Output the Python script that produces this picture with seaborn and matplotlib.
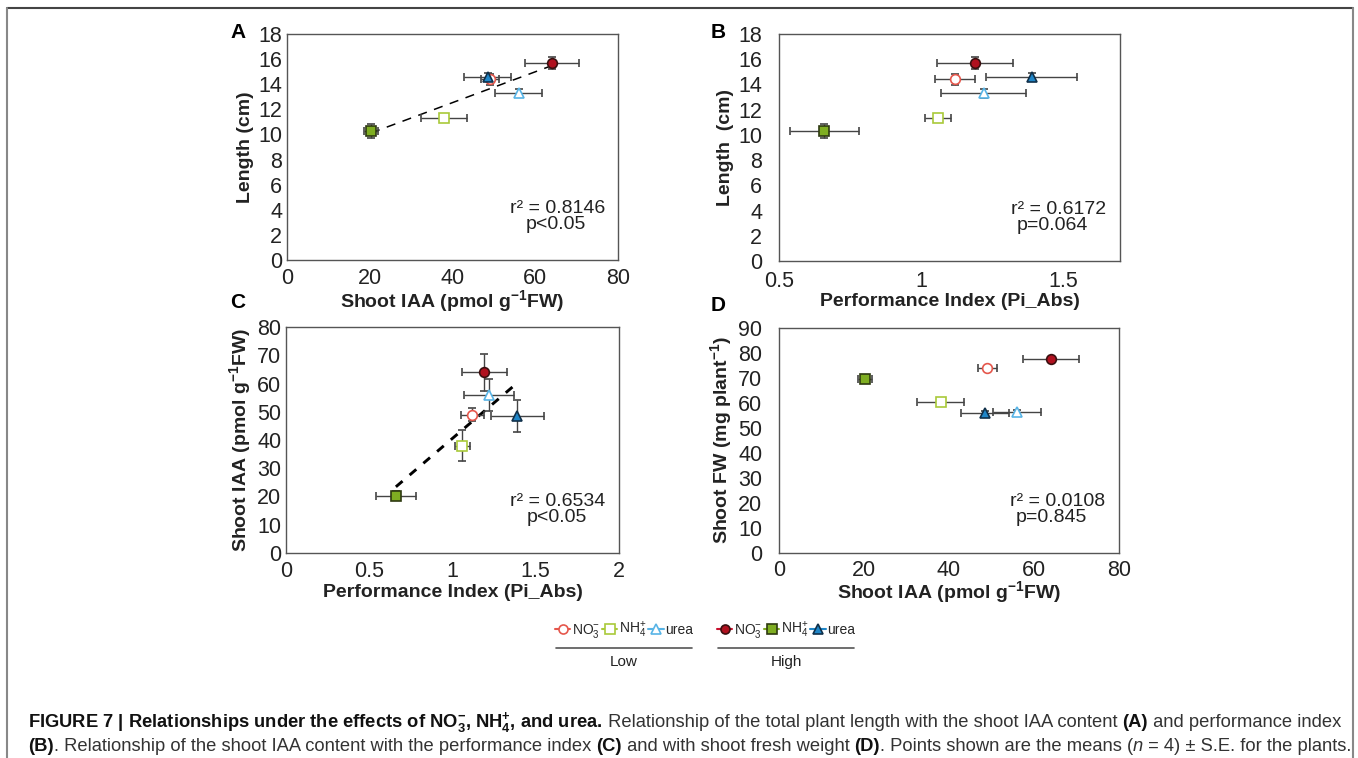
import numpy as np
import pandas as pd
import seaborn as sns
import matplotlib.pyplot as plt
from matplotlib.lines import Line2D
from matplotlib import font_manager

# Data: six treatments (low / high N supply)
TREATMENTS = ["Low NO3", "Low NH4", "Low urea", "High NO3", "High NH4", "High urea"]
IAA = [49.0, 38.0, 56.0, 64.0, 20.3, 48.5]
IAA_SE = [2.2, 5.5, 5.7, 6.5, 1.6, 5.7]
LENGTH = [14.4, 11.3, 13.3, 15.7, 10.3, 14.6]
LENGTH_SE = [0.45, 0.3, 0.35, 0.5, 0.55, 0.3]
PI = [1.12, 1.06, 1.22, 1.19, 0.66, 1.39]
PI_SE = [0.07, 0.045, 0.15, 0.135, 0.12, 0.16]
FW = [74.0, 60.5, 56.5, 77.8, 69.5, 56.2]
FW_SE = [0.8, 0.9, 0.8, 0.8, 1.0, 0.8]

STATS = {"A": ("r² = 0.8146", "p<0.05"), "B": ("r² = 0.6172", "p=0.064"),
         "C": ("r² = 0.6534", "p<0.05"), "D": ("r² = 0.0108", "p=0.845")}

# marker, face, edge, legend line colour
STYLE = {
    "Low NO3": ("o", "white", "#e5574c", "#e5574c"),
    "Low NH4": ("s", "white", "#a9c93a", "#a9c93a"),
    "Low urea": ("^", "white", "#58b4e6", "#58b4e6"),
    "High NO3": ("o", "#b0111f", "#3a1010", "#c8102e"),
    "High NH4": ("s", "#7fae22", "#2e3a10", "#7fae22"),
    "High urea": ("^", "#1f86c8", "#10304a", "#1f86c8"),
}

df = pd.DataFrame({"treatment": TREATMENTS, "iaa": IAA, "iaa_se": IAA_SE,
                   "length": LENGTH, "length_se": LENGTH_SE, "pi": PI, "pi_se": PI_SE,
                   "fw": FW, "fw_se": FW_SE})

sns.set_theme(style="white")


def pick(names):
    for n in names:
        try:
            font_manager.findfont(font_manager.FontProperties(family=n), fallback_to_default=False)
            return n
        except Exception:
            pass
    return "DejaVu Sans"


MAIN = pick(["Liberation Sans", "Arial", "DejaVu Sans"])
NARROW = pick(["Liberation Sans Narrow", "Liberation Sans"])
plt.rcParams["font.family"] = [MAIN, "DejaVu Sans"]
plt.rcParams["mathtext.fontset"] = "custom"
plt.rcParams["mathtext.rm"] = MAIN
plt.rcParams["mathtext.bf"] = MAIN + ":bold"
plt.rcParams["mathtext.it"] = MAIN + ":italic"

W, H = 1358, 758
fig = plt.figure(figsize=(W / 100, H / 100), dpi=100)


def box(l, t, r, b):
    return [l / W, (H - b) / H, (r - l) / W, (b - t) / H]


TXT = "#222222"
panels = {
    "A": dict(rect=box(287, 34, 618, 260), x="iaa", y="length", xe="iaa_se", ye="length_se",
              xlim=(0, 80), xt=np.arange(0, 81, 20), ylim=(0, 18), yt=np.arange(0, 19, 2),
              xl="Shoot IAA (pmol g$^{\\mathbf{-1}}$FW)", yl="Length (cm)", fit=True,
              dash=(6, 5), lw=1.1, ypad=3.5, xpad=6, xlp=-1),
    "B": dict(rect=box(779, 34, 1120, 261), x="pi", y="length", xe="pi_se", ye="length_se",
              xlim=(0.5, 1.7), xt=[0.5, 1, 1.5], ylim=(0, 18), yt=np.arange(0, 19, 2),
              xl="Performance Index (Pi_Abs)", yl="Length  (cm)", fit=False, ypad=12, xpad=7, xlp=1),
    "C": dict(rect=box(286, 327, 619, 553), x="pi", y="iaa", xe="pi_se", ye="iaa_se",
              xlim=(0, 2), xt=[0, 0.5, 1, 1.5, 2], ylim=(0, 80), yt=np.arange(0, 81, 10),
              xl="Performance Index (Pi_Abs)", yl="Shoot IAA (pmol g$^{\\mathbf{-1}}$FW)", fit=True,
              dash=(3, 3.2), lw=2.1, ypad=3.5, xpad=6, xlp=1),
    "D": dict(rect=box(779, 328, 1119, 553), x="iaa", y="fw", xe="iaa_se", ye="fw_se",
              xlim=(0, 80), xt=np.arange(0, 81, 20), ylim=(0, 90), yt=np.arange(0, 91, 10),
              xl="Shoot IAA (pmol g$^{\\mathbf{-1}}$FW)", yl="Shoot FW (mg plant$^{\\mathbf{-1}}$)",
              fit=False, ypad=12, xpad=5, xlp=-1),
}

for key, p in panels.items():
    ax = fig.add_axes(p["rect"])
    if p["fit"]:
        sns.regplot(data=df, x=p["x"], y=p["y"], ax=ax, scatter=False, ci=None, truncate=True,
                    line_kws=dict(color="black", lw=p["lw"], dashes=p["dash"], zorder=2))
    for _, row in df.iterrows():
        m, fc, ec, _lc = STYLE[row["treatment"]]
        ax.errorbar(row[p["x"]], row[p["y"]], xerr=row[p["xe"]], yerr=row[p["ye"]],
                    fmt=m, ms=7 if m != "^" else 7.5, mfc=fc, mec=ec, mew=1.2,
                    ecolor="#444444", elinewidth=1.0, capsize=3, capthick=1.0, zorder=3)
    ax.set_xlim(*p["xlim"])
    ax.set_ylim(*p["ylim"])
    ax.set_xticks(p["xt"])
    ax.set_yticks(p["yt"])
    ax.set_xticklabels([f"{v:g}" for v in p["xt"]])
    ax.tick_params(direction="in", length=3, color="#777777", labelsize=15.5, labelcolor=TXT)
    ax.tick_params(axis="x", pad=p["xpad"])
    ax.tick_params(axis="y", pad=p["ypad"])
    ax.set_xlabel(p["xl"], fontsize=14, fontweight="bold", color=TXT, labelpad=p["xlp"])
    ax.set_ylabel(p["yl"], fontsize=14, fontweight="bold", color=TXT, labelpad=3)
    for s in ax.spines.values():
        s.set_color("#555555")
        s.set_linewidth(1.0)
    ax.text(0.96, 0.19, STATS[key][0], transform=ax.transAxes, ha="right", va="bottom",
            fontsize=14, color=TXT)
    ax.text(0.905, 0.12, STATS[key][1], transform=ax.transAxes, ha="right", va="bottom",
            fontsize=14, color=TXT)

# panel letters
for lab, (px, py) in {"A": (238, 32), "B": (718, 32), "C": (238, 303), "D": (718, 305)}.items():
    fig.text(px / W, 1 - py / H, lab, fontsize=15, fontweight="bold", ha="center", va="center",
             color="black")

# legend
handles_low, handles_high = [], []
names = ["NO$_3^{-}$", "NH$_4^{+}$", "urea"]
for t in TREATMENTS:
    m, fc, ec, lc = STYLE[t]
    h = Line2D([], [], color=lc, lw=1.5, marker=m, ms=6.5, mfc=fc, mec=ec, mew=1.2)
    (handles_low if t.startswith("Low") else handles_high).append(h)

for hs, cx, grp in [(handles_low, 624, "Low"), (handles_high, 786, "High")]:
    fig.legend(hs, names, loc="center", bbox_to_anchor=(cx / W, 1 - 630 / H), ncol=3,
               frameon=False, handlelength=1.1, handletextpad=0.1, columnspacing=0.15,
               borderpad=0.1, borderaxespad=0,
               prop=dict(family=[NARROW, "DejaVu Sans"], size=10))
    fig.add_artist(Line2D([(cx - 68) / W, (cx + 68) / W], [1 - 648 / H, 1 - 648 / H],
                          color="#555555", lw=1.2))
    fig.text(cx / W, 1 - 662 / H, grp, ha="center", va="center", fontsize=11,
             family=[NARROW, "DejaVu Sans"], color=TXT)

# outer frame
fig.add_artist(Line2D([7 / W, 1353 / W], [1 - 8 / H, 1 - 8 / H], color="#444444", lw=1.5))
for xx in (7, 1353):
    fig.add_artist(Line2D([xx / W, xx / W], [0, 1 - 8 / H], color="#888888", lw=1.5))

# caption, written piece by piece
line1 = [("FIGURE 7 | Relationships under the effects of NO$_{\\mathbf{3}}^{\\mathbf{-}}$, NH$_{\\mathbf{4}}^{\\mathbf{+}}$, and urea.", "bold", "normal"),
         (" Relationship of the total plant length with the shoot IAA content ", "normal", "normal"),
         ("(A)", "bold", "normal"), (" and performance index", "normal", "normal")]
line2 = [("(B)", "bold", "normal"),
         (". Relationship of the shoot IAA content with the performance index ", "normal", "normal"),
         ("(C)", "bold", "normal"), (" and with shoot fresh weight ", "normal", "normal"),
         ("(D)", "bold", "normal"), (". Points shown are the means (", "normal", "normal"),
         ("n", "normal", "italic"), (" = 4) ± S.E. for the plants.", "normal", "normal")]

renderer = fig.canvas.get_renderer()


def write(parts, x0, y, size):
    out = []
    x = x0
    for s, w, st in parts:
        t = fig.text(x / W, 1 - y / H, s, fontsize=size, fontweight=w, fontstyle=st,
                     family=[NARROW, "DejaVu Sans"], color="#111111" if w == "bold" else "#333333",
                     va="baseline", ha="left")
        bb = t.get_window_extent(renderer)
        x = bb.x1
        out.append(t)
    return out, x - x0


size = 12.5
texts, width = write(line1, 28, 727, size)
for t in texts:
    t.remove()
size = size * 1315 / width
write(line1, 28, 727, size)
write(line2, 28, 751, size)

fig.savefig("out.png", dpi=100)
